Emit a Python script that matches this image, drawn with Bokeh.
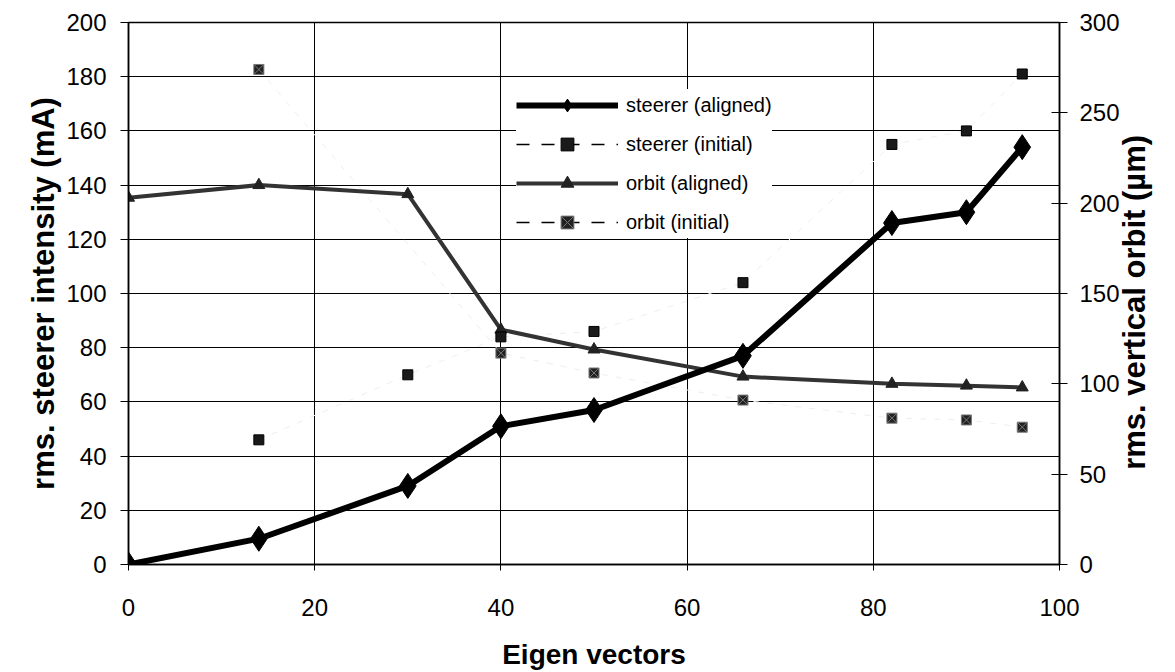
import math
from bokeh.plotting import figure
from bokeh.models import Range1d, LinearAxis, Legend, LegendItem, FixedTicker
from bokeh.embed import file_html
from bokeh.resources import INLINE

# ---- data ----
x_aligned = [0, 14, 30, 40, 50, 66, 82, 90, 96]
steerer_aligned = [0, 9.5, 29, 51, 57, 77, 126, 130, 154]          # mA
orbit_aligned = [203, 210, 205, 130, 119, 104, 100, 99, 98]         # um

x_steerer_initial = [14, 30, 40, 50, 66, 82, 90, 96]
steerer_initial = [46, 70, 84, 86, 104, 155, 160, 181]              # mA

x_orbit_initial = [14, 40, 50, 66, 82, 90, 96]
orbit_initial = [274, 117, 106, 91, 81, 80, 76]                     # um

x_ticks = [0, 20, 40, 60, 80, 100]
left_ticks = [0, 20, 40, 60, 80, 100, 120, 140, 160, 180, 200]
right_ticks = [0, 50, 100, 150, 200, 250, 300]

FONT = "Liberation Sans"

p = figure(width=1172, height=672,
           x_range=Range1d(0, 100), y_range=Range1d(0, 200),
           output_backend="svg", toolbar_location=None,
           min_border_left=128, min_border_right=110,
           min_border_top=22, min_border_bottom=108)
p.extra_y_ranges = {"orbit": Range1d(0, 300), "legend_only": Range1d(-2000, -1000)}

p.outline_line_color = "black"
p.outline_line_width = 1.5
p.background_fill_color = "white"

# grids
p.xgrid.ticker = FixedTicker(ticks=x_ticks)
p.ygrid.ticker = FixedTicker(ticks=left_ticks)
for g in (p.xgrid, p.ygrid):
    g.grid_line_color = "black"
    g.grid_line_width = 1
    g.grid_line_alpha = 1

# x axis
xa = p.xaxis[0]
xa.ticker = FixedTicker(ticks=x_ticks)
xa.axis_label = "Eigen vectors"
xa.axis_label_text_font = FONT
xa.axis_label_text_font_style = "bold"
xa.axis_label_text_font_size = "28px"
xa.axis_label_text_color = "black"
xa.axis_label_standoff = 20
xa.major_label_text_font = FONT
xa.major_label_text_font_size = "24px"
xa.major_label_text_color = "black"
xa.major_label_standoff = 28
xa.major_tick_in = 0
xa.major_tick_out = 6
xa.minor_tick_out = 0
xa.minor_tick_in = 0
xa.axis_line_color = "black"
xa.axis_line_width = 1.5
xa.major_tick_line_color = "black"

# left axis
ya = p.yaxis[0]
ya.ticker = FixedTicker(ticks=left_ticks)
ya.axis_label = "rms. steerer intensity (mA)"
ya.axis_label_text_font = FONT
ya.axis_label_text_font_style = "bold"
ya.axis_label_text_font_size = "31px"
ya.axis_label_text_color = "black"
ya.axis_label_standoff = 2
ya.major_label_text_font = FONT
ya.major_label_text_font_size = "24px"
ya.major_label_text_color = "black"
ya.major_label_standoff = 14
ya.major_tick_in = 0
ya.major_tick_out = 8
ya.minor_tick_out = 0
ya.minor_tick_in = 0
ya.axis_line_color = "black"
ya.axis_line_width = 1.5
ya.major_tick_line_color = "black"

# right axis; its title reads bottom-to-top, starting from the bottom end of the axis
# (non-breaking spaces shift it up so that it sits centred on the axis)
ra = LinearAxis(y_range_name="orbit", ticker=FixedTicker(ticks=right_ticks),
                axis_label="\u00a0" * 11 + "rms. vertical orbit (µm)")
ra.axis_label_text_font = FONT
ra.axis_label_text_font_style = "bold"
ra.axis_label_text_font_size = "31px"
ra.axis_label_text_color = "black"
ra.axis_label_orientation = math.pi / 2
ra.axis_label_align = "start"
ra.axis_label_standoff = 12
ra.major_label_text_font = FONT
ra.major_label_text_font_size = "24px"
ra.major_label_text_color = "black"
ra.major_label_standoff = 12
ra.major_tick_in = 8
ra.major_tick_out = 8
ra.minor_tick_out = 0
ra.minor_tick_in = 0
ra.axis_line_color = "black"
ra.axis_line_width = 1.5
ra.major_tick_line_color = "black"
p.add_layout(ra, "right")

# faint dashed connectors of the initial series (barely visible in the scan)
p.line(x_steerer_initial, steerer_initial, line_color="#eeeeee", line_width=1, line_dash="6 8")
p.line(x_orbit_initial, orbit_initial, y_range_name="orbit",
       line_color="#eeeeee", line_width=1, line_dash="6 8")

# orbit aligned
oa_line = p.line(x_aligned, orbit_aligned, y_range_name="orbit",
                 line_color="#333333", line_width=4)
oa_mark = p.scatter(x_aligned, orbit_aligned, y_range_name="orbit", marker="triangle",
                    size=12, fill_color="#222222", line_color="#222222")

# steerer initial
si_mark = p.scatter(x_steerer_initial, steerer_initial, marker="square", size=10,
                    fill_color="#1a1a1a", line_color="black")

# orbit initial
oi_mark = p.scatter(x_orbit_initial, orbit_initial, y_range_name="orbit", marker="square_x",
                    size=10, fill_color="#222222", line_color="#777777", line_width=1)

# steerer aligned
sa_line = p.line(x_aligned, steerer_aligned, line_color="black", line_width=6)
sa_mark = p.scatter(x_aligned, steerer_aligned, marker="diamond", size=25,
                    fill_color="black", line_color="black")

# legend samples for the dashed series: same data, on a range that keeps them off the frame,
# so that the legend shows the dark dashes of the reference legend
si_leg_line = p.line(x_steerer_initial, steerer_initial, y_range_name="legend_only",
                     line_color="black", line_width=1.5, line_dash="13 12")
si_leg_mark = p.scatter(x_steerer_initial, steerer_initial, y_range_name="legend_only",
                        marker="square", size=10, fill_color="#1a1a1a", line_color="black")
oi_leg_line = p.line(x_orbit_initial, orbit_initial, y_range_name="legend_only",
                     line_color="black", line_width=1.5, line_dash="13 12")
oi_leg_mark = p.scatter(x_orbit_initial, orbit_initial, y_range_name="legend_only",
                        marker="square_x", size=10, fill_color="#222222", line_color="#777777")

legend = Legend(items=[
    LegendItem(label="steerer (aligned)", renderers=[sa_line, sa_mark]),
    LegendItem(label="steerer (initial)", renderers=[si_leg_line, si_leg_mark]),
    LegendItem(label="orbit (aligned)", renderers=[oa_line, oa_mark]),
    LegendItem(label="orbit (initial)", renderers=[oi_leg_line, oi_leg_mark]),
], location=(388, 326))
legend.label_text_font = FONT
legend.label_text_font_size = "20px"
legend.label_text_color = "black"
legend.glyph_width = 102
legend.glyph_height = 32
legend.label_height = 32
legend.spacing = 7
legend.padding = 6
legend.margin = 0
legend.label_standoff = 8
legend.border_line_color = None
legend.background_fill_color = "white"
legend.background_fill_alpha = 1
p.add_layout(legend, "center")

open("out.html", "w").write(file_html(p, INLINE))
